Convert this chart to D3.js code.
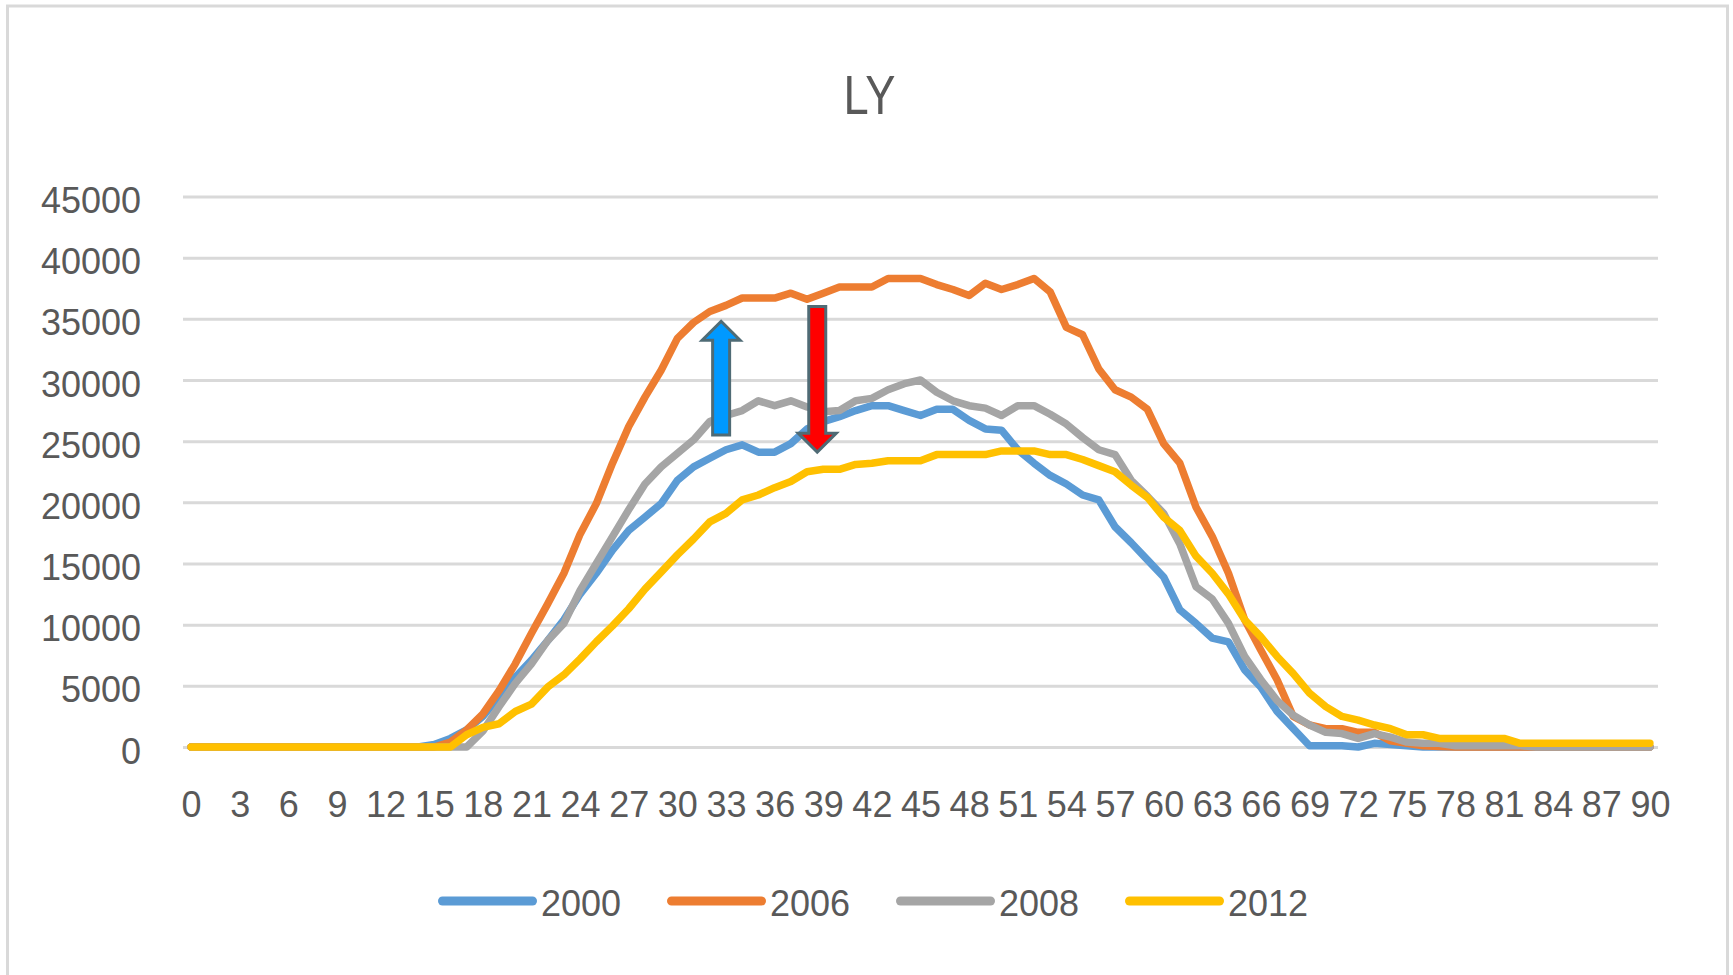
<!DOCTYPE html>
<html><head><meta charset="utf-8">
<script src="https://cdn.jsdelivr.net/npm/d3@7/dist/d3.min.js"></script>
<style>html,body{margin:0;padding:0;background:#fff;overflow:hidden}</style>
</head><body>
<svg id="chart" width="1733" height="975"></svg>
<script>
// ---- data ----
const title = "LY";
const categories = [0,1,2,3,4,5,6,7,8,9,10,11,12,13,14,15,16,17,18,19,20,21,22,23,24,25,26,27,28,29,30,31,32,33,34,35,36,37,38,39,40,41,42,43,44,45,46,47,48,49,50,51,52,53,54,55,56,57,58,59,60,61,62,63,64,65,66,67,68,69,70,71,72,73,74,75,76,77,78,79,80,81,82,83,84,85,86,87,88,89,90];
const xTickLabels = [0,3,6,9,12,15,18,21,24,27,30,33,36,39,42,45,48,51,54,57,60,63,66,69,72,75,78,81,84,87,90];
const yTickLabels = [0,5000,10000,15000,20000,25000,30000,35000,40000,45000];
const seriesNames = ["2000","2006","2008","2012"];
const s2000 = [0,0,0,0,0,0,0,0,0,0,0,0,0,0,0,200,700,1400,2500,4100,5700,7100,8700,10400,12500,14200,16100,17700,18800,19900,21800,22900,23600,24300,24700,24100,24100,24800,26000,26600,27000,27500,27900,27900,27500,27100,27600,27600,26700,26000,25900,24300,23200,22200,21500,20600,20200,18000,16700,15300,13900,11200,10100,8900,8600,6300,4900,2900,1500,100,100,100,0,300,200,100,0,0,0,0,0,0,0,0,0,0,0,0,0,0,0];
const s2006 = [0,0,0,0,0,0,0,0,0,0,0,0,0,0,0,0,400,1400,2700,4600,6800,9300,11700,14200,17400,19900,23200,26200,28600,30800,33400,34700,35600,36100,36700,36700,36700,37100,36600,37100,37600,37600,37600,38300,38300,38300,37800,37400,36900,37900,37400,37800,38300,37200,34300,33700,30900,29200,28600,27600,24800,23200,19600,17200,14200,10400,7900,5500,2500,1800,1500,1500,1200,1200,500,300,100,50,0,0,0,0,0,0,0,0,0,0,0,0,0];
const s2008 = [0,0,0,0,0,0,0,0,0,0,0,0,0,0,0,0,0,0,1300,3300,5200,6800,8700,10100,12800,15000,17200,19400,21500,22900,24000,25100,26600,27100,27500,28300,27900,28300,27800,27400,27500,28300,28500,29200,29700,30000,29000,28300,27900,27700,27100,27900,27900,27200,26400,25300,24300,23900,21800,20500,19100,16600,13100,12100,10100,7400,5500,3800,2600,1800,1200,1100,700,1100,800,400,300,300,100,100,100,100,100,0,0,0,0,0,0,0,0];
const s2012 = [0,0,0,0,0,0,0,0,0,0,0,0,0,0,0,0,0,1000,1600,1900,2900,3500,4900,5900,7200,8600,9900,11300,12900,14300,15700,17000,18400,19100,20200,20600,21200,21700,22500,22700,22700,23100,23200,23400,23400,23400,23900,23900,23900,23900,24200,24200,24200,23900,23900,23500,23000,22500,21400,20400,18800,17700,15600,14200,12500,10400,9000,7400,6000,4400,3300,2500,2200,1800,1500,1000,1000,700,700,700,700,700,300,300,300,300,300,300,300,300,300];
// arrow annotations (category position, start value, end value)
const arrowAt = [32.7, 38.63];
const arrowFrom = [25500, 36000];
const arrowTo = [34800, 24100];

// ---- styles / layout ----
const seriesValues = [s2000, s2006, s2008, s2012];
const colors = ["#5B9BD5","#ED7D31","#A5A5A5","#FFC000"];
const arrowFills = ["#0099FF","#FF0000"];
const textColor = "#595959";
const gridColor = "#D9D9D9";
const font = "'Liberation Sans', Arial, sans-serif";

const svg = d3.select("#chart");
svg.append("rect").attr("x",0).attr("y",0).attr("width",1733).attr("height",975).attr("fill","#fff");
svg.append("rect").attr("x",7.5).attr("y",6).attr("width",1720).attr("height",1000)
  .attr("fill","none").attr("stroke",gridColor).attr("stroke-width",3);

const plotL = 183, plotR = 1658, plotT = 196.5, plotB = 747;
const x = d3.scaleLinear().domain([-0.5, 90.5]).range([plotL, plotR]);
const y = d3.scaleLinear().domain([0, 45000]).range([plotB, plotT]);

// gridlines + y labels
const yAxis = d3.axisLeft(y).tickValues(yTickLabels).tickSize(0).tickPadding(0).tickFormat(d3.format("d"));
const gy = svg.append("g").attr("transform",`translate(${plotL},0)`).call(yAxis);
gy.select(".domain").remove();
gy.selectAll(".tick line").attr("x1",0).attr("x2",plotR-plotL).attr("stroke",gridColor).attr("stroke-width",3);
gy.selectAll(".tick text").attr("x",-42).attr("dy",null).attr("y",16)
  .attr("fill",textColor).style("font-family",font).style("font-size","36px").attr("text-anchor","end");

// x labels
const xAxis = d3.axisBottom(x).tickValues(xTickLabels).tickSize(0).tickPadding(0).tickFormat(d3.format("d"));
const gx = svg.append("g").attr("transform",`translate(0,${plotB})`).call(xAxis);
gx.select(".domain").remove();
gx.selectAll(".tick text").attr("dy",null).attr("y",70)
  .attr("fill",textColor).style("font-family",font).style("font-size","36px").attr("text-anchor","middle");

// lines
const line = d3.line().x((d,i)=>x(categories[i])).y(d=>y(d));
seriesValues.forEach((vals,k)=>{
  svg.append("path").datum(vals).attr("d",line).attr("fill","none")
    .attr("stroke",colors[k]).attr("stroke-width",7.5)
    .attr("stroke-linejoin","round").attr("stroke-linecap","round");
});

// arrows
arrowAt.forEach((a,k)=>{
  const cx = x(a), yb = y(arrowFrom[k]), yt = y(arrowTo[k]);
  const s = yt > yb ? 1 : -1;
  const sw = 8.5, hw = 19, hl = 19;
  const yh = yt - s*hl;
  const p = d3.path();
  p.moveTo(cx-sw,yb); p.lineTo(cx-sw,yh); p.lineTo(cx-hw,yh); p.lineTo(cx,yt);
  p.lineTo(cx+hw,yh); p.lineTo(cx+sw,yh); p.lineTo(cx+sw,yb); p.closePath();
  svg.append("path").attr("d",p.toString()).attr("fill",arrowFills[k])
    .attr("stroke","#4F6B75").attr("stroke-width",3).attr("stroke-linejoin","miter");
});

// title
svg.append("text").attr("x",869.5).attr("y",114).attr("text-anchor","middle")
  .attr("fill",textColor).style("font-family",font).style("font-size","56px")
  .attr("textLength",52).attr("lengthAdjust","spacingAndGlyphs").text(title);

// legend
const leg = svg.append("g");
seriesNames.forEach((n,k)=>{
  const x0 = 438 + k*229;
  leg.append("line").attr("x1",x0+4.5).attr("x2",x0+94.5).attr("y1",901).attr("y2",901)
    .attr("stroke",colors[k]).attr("stroke-width",9).attr("stroke-linecap","round");
  leg.append("text").attr("x",x0+103).attr("y",916).attr("fill",textColor)
    .style("font-family",font).style("font-size","36px").text(n);
});
</script>
</body></html>
